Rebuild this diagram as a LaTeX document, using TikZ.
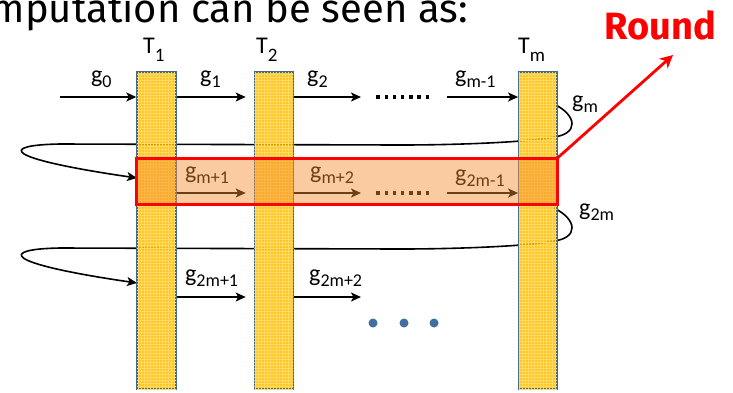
\documentclass[tikz,border=0pt]{standalone}
\usepackage{fontspec}
\setmainfont{Carlito}
\newfontfamily\titlefont{Fira Sans}
\usepackage{tikz}
\usetikzlibrary{positioning}
\usetikzlibrary{arrows.meta}
\usetikzlibrary{patterns}

\definecolor{baryellow}{RGB}{255,188,0}
\definecolor{barborder}{RGB}{65,105,150}
\definecolor{gridyellow}{RGB}{255,218,100}
\definecolor{overlay}{RGB}{245,140,45}
\definecolor{dotblue}{RGB}{65,110,160}

\newcommand{\gl}[2]{#1\raisebox{-5pt}{\fontsize{18}{18}\selectfont #2}}
\newcommand{\tl}[2]{#1\raisebox{-8pt}{\fontsize{19}{19}\selectfont #2}}

\tikzset{
  bar/.style={draw=barborder, line width=1.4pt, fill=baryellow,
    fill opacity=0.85, minimum width=39pt, minimum height=317pt,
    inner sep=0pt, postaction={pattern=grid, pattern color=gridyellow}},
  lab/.style={anchor=base west, inner sep=0pt, font=\fontsize{24}{26}\selectfont},
  garrow/.style={line width=1.6pt, -{Stealth[length=10pt, width=9pt, inset=2.5pt]}},
  loopline/.style={line width=1.6pt, -{Stealth[length=10pt, width=9pt, inset=2.5pt]}},
  redbox/.style={draw=red, line width=3pt, fill=overlay, fill opacity=0.45},
  roundarrow/.style={red, line width=2.8pt, -{Stealth[length=13pt, width=13pt, inset=4pt]}}
}

\begin{document}
\begin{tikzpicture}[x=1pt, y=-1pt]
    \useasboundingbox (0,0) rectangle (733,392);
    \clip (0,0) rectangle (733,392);

    % righe e punti di riferimento
    \coordinate (r1) at (0,97);
    \coordinate (r2) at (0,193);
    \coordinate (r3) at (0,297);
    \coordinate (s1) at (0,104);
    \coordinate (s2) at (0,208);
    \coordinate (in2) at (0,178);
    \coordinate (in3) at (0,283);
    \coordinate (b1) at (0,158);
    \coordinate (b2) at (0,204);
    \coordinate (a0) at (60,97);
    \coordinate (e2) at (361,97);
    \coordinate (am) at (447,97);
    \coordinate (e22) at (361,193);
    \coordinate (am2) at (447,193);
    \coordinate (e32) at (361,297);
    \coordinate (rt) at (673,55);

    % titolo (tagliato in alto)
    \node[anchor=base east, inner sep=0pt, font=\titlefont\fontsize{40}{44}\selectfont] (title) at (468,22) {computation can be seen as:};

    % anelli di ritorno (passano dietro le colonne)
    \coordinate (Tmx) at (554,0);
    \coordinate (T1x) at (137,0);
    \draw[loopline] (Tmx|-s1) .. controls +(24,12) and +(24,-3) .. (554,137)
      .. controls +(-24,5) and +(60,0) .. (400,145) -- (60,144)
      .. controls +(-60,1) and +(-137,-20) .. (T1x|-in2);
    \draw[loopline] (Tmx|-s2) .. controls +(24,12) and +(24,-3) .. (554,241)
      .. controls +(-24,5) and +(60,0) .. (400,249) -- (60,248)
      .. controls +(-60,1) and +(-137,-20) .. (T1x|-in3);

    % colonne T
    \node[bar] (T1) at (156.5,230.5) {};
    \node[bar, right=77pt of T1] (T2) {};
    \node[bar, right=224pt of T2, minimum width=38pt] (Tm) {};
    \node[lab] (lt1) at (143,53) {\tl{T}{1}};
    \node[lab] (lt2) at (256,53) {\tl{T}{2}};
    \node[lab] (ltm) at (518,53) {\tl{T}{m}};

    % prima riga
    \draw[garrow] (a0) -- (T1.west|-r1);
    \draw[garrow, shorten >=8pt] (T1.east|-r1) -- (T2.west|-r1);
    \draw[garrow] (T2.east|-r1) -- (e2);
    \draw[garrow] (am) -- (Tm.west|-r1);
    \foreach \i in {0,...,6}
      \fill (376.3+8.2*\i,95.2) rectangle +(3.5,3.5);
    \node[lab] (g0) at (91,82) {\gl{g}{0}};
    \node[lab] (g1) at (200,82) {\gl{g}{1}};
    \node[lab] (g2) at (307,82) {\gl{g}{2}};
    \node[lab] (gm1) at (455,82) {\gl{g}{m-1}};
    \node[lab] (gm) at (572,107) {\gl{g}{m}};

    % seconda riga (il round)
    \draw[garrow, shorten >=8pt] (T1.east|-r2) -- (T2.west|-r2);
    \draw[garrow] (T2.east|-r2) -- (e22);
    \draw[garrow] (am2) -- (Tm.west|-r2);
    \foreach \i in {0,...,6}
      \fill (376.3+8.2*\i,191.2) rectangle +(3.5,3.5);
    \node[lab] (gm1p) at (185,178) {\gl{g}{m+1}};
    \node[lab] (gm2p) at (310,178) {\gl{g}{m+2}};
    \node[lab] (g2m1) at (455,181) {\gl{g}{2m-1}};
    \node[lab] (g2m) at (579,215) {\gl{g}{2m}};
    \draw[redbox] (T1.west|-b1) rectangle (Tm.east|-b2);

    % terza riga
    \draw[garrow, shorten >=8pt] (T1.east|-r3) -- (T2.west|-r3);
    \draw[garrow] (T2.east|-r3) -- (e32);
    \node[lab] (g2m1p) at (185,281) {\gl{g}{2m+1}};
    \node[lab] (g2m2p) at (309,281) {\gl{g}{2m+2}};
    \foreach \x in {373,404,434}
      \fill[dotblue] (\x,323) circle (4.5pt);

    % etichetta Round
    \draw[roundarrow] (Tm.east|-b1) -- (rt);
    \node[text=red, font=\titlefont\bfseries\fontsize{38}{40}\selectfont] (round) at (660,25) {Round};
\end{tikzpicture}
\end{document}
